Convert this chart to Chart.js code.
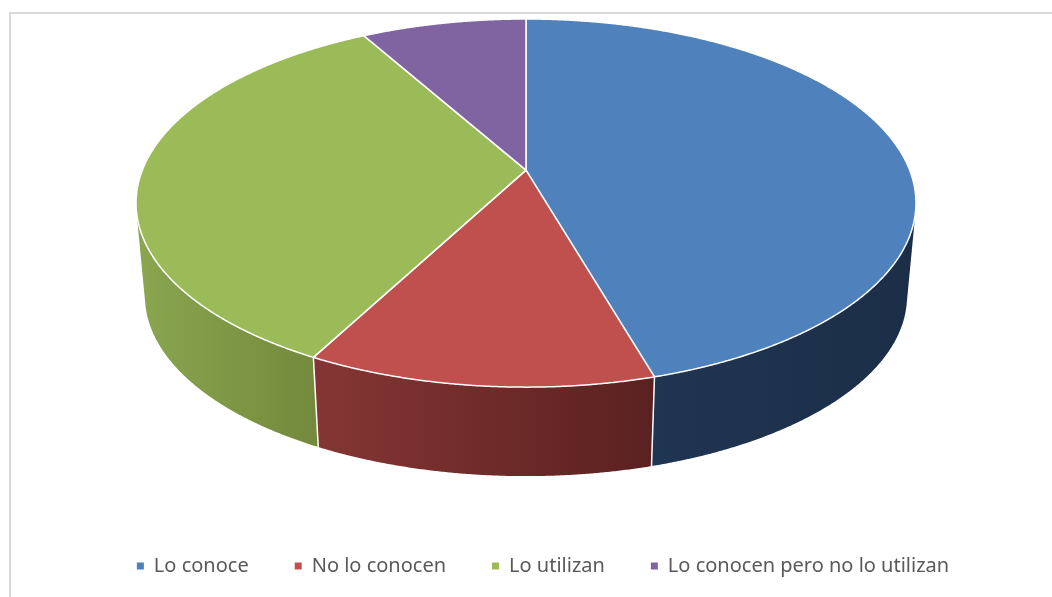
<!DOCTYPE html>
<html><head><meta charset="utf-8">
<script src="https://cdn.jsdelivr.net/npm/chart.js@4.4.1/dist/chart.umd.min.js"></script>
<style>
html,body{margin:0;padding:0;background:#fff;overflow:hidden;width:1052px;height:597px;}
#frame{position:absolute;left:9px;top:12px;width:1200px;height:800px;border-left:2px solid #d9d9d9;border-top:2px solid #d9d9d9;}
#wrap{position:absolute;left:0;top:0;width:1052px;height:597px;}
</style></head><body>
<div id="frame"></div>
<div id="wrap"><canvas id="c" width="1052" height="597"></canvas></div>
<script>
const categories = ['Lo conoce', 'No lo conocen', 'Lo utilizan', 'Lo conocen pero no lo utilizan'];
const values = [56, 15, 42, 10];
const topColors = ['#4F81BD', '#C0504D', '#9BBB59', '#8064A2'];
const sideColors = [['#203552', '#1c2e47'], ['#853634', '#5a2120'], ['#8aa650', '#73893c'], ['#4d3c62', '#3f3150']];

const view3d = { fill: 0.931, tilt: 0.472, perspective: 0.179, depth: 0.241, shrink: 0.977, legendShift: 17 };

const pie3d = {
  id: 'pie3d',
  afterLayout(chart, args, o) {
    if (chart.legend) { chart.legend.left += o.legendShift; chart.legend.right += o.legendShift; }
  },
  beforeDatasetsDraw(chart, args, o) {
    const ctx = chart.ctx, ca = chart.chartArea;
    const arcs = chart.getDatasetMeta(0).data;
    const e = o.perspective, s = o.shrink;
    const H = (ca.bottom - ca.top) * o.fill;
    const ry = H / (1 - e + o.depth / o.tilt + s * (1 + e));
    const rx = ry / o.tilt;
    const cx = arcs[0].x;
    const cyTop = ca.top + ry;
    const apexY = cyTop - ry * e;
    const kx = rx * Math.sqrt(1 - e * e), ky = ry * (1 - e * e);
    const D = o.depth * rx;
    const T = a => { const u = Math.cos(a), v = Math.sin(a), w = 1 - e * v; return [cx + kx * u / w, apexY + ky * v / w]; };
    const B = a => { const u = Math.cos(a), v = Math.sin(a), w = 1 - e * v; return [cx + s * kx * u / w, apexY + D + s * ky * v / w]; };
    const cross = a => {
      const h = 1e-4, t0 = T(a - h), t1 = T(a + h), t = T(a), b = B(a);
      const dx = t1[0] - t0[0], dy = t1[1] - t0[1];
      return dx * (b[1] - t[1]) - dy * (b[0] - t[0]);
    };
    const findZero = (lo, hi) => {
      let best = lo, bv = Infinity;
      for (let a = lo; a <= hi; a += 0.0005) { const c = Math.abs(cross(a)); if (c < bv) { bv = c; best = a; } }
      return best;
    };
    const aR = findZero(-0.6, 0.8), aL = findZero(Math.PI - 0.8, Math.PI + 0.6);
    const step = 0.004;
    const pts = (f, a0, a1) => {
      const n = Math.max(2, Math.ceil(Math.abs(a1 - a0) / step)), r = [];
      for (let i = 0; i <= n; i++) r.push(f(a0 + (a1 - a0) * i / n));
      return r;
    };
    ctx.save();
    ctx.lineJoin = 'round';
    arcs.forEach((arc, i) => {
      const a0 = Math.max(arc.startAngle, aR), a1 = Math.min(arc.endAngle, aL);
      if (a1 <= a0) return;
      const top = pts(T, a0, a1), bot = pts(B, a1, a0);
      const all = top.concat(bot);
      let minX = Infinity, maxX = -Infinity;
      all.forEach(p => { minX = Math.min(minX, p[0]); maxX = Math.max(maxX, p[0]); });
      const g = ctx.createLinearGradient(minX, 0, maxX, 0);
      g.addColorStop(0, sideColors[i][0]);
      g.addColorStop(1, sideColors[i][1]);
      ctx.beginPath();
      all.forEach((p, k) => k ? ctx.lineTo(p[0], p[1]) : ctx.moveTo(p[0], p[1]));
      ctx.closePath();
      ctx.fillStyle = g;
      ctx.fill();
    });
    ctx.strokeStyle = '#ffffff';
    ctx.lineWidth = 1.5;
    arcs.forEach(arc => {
      const a = arc.endAngle;
      if (a > aR && a < aL) {
        const t = T(a), b = B(a);
        ctx.beginPath(); ctx.moveTo(t[0], t[1]); ctx.lineTo(b[0], b[1]); ctx.stroke();
      }
    });
    arcs.forEach((arc, i) => {
      const p = pts(T, arc.startAngle, arc.endAngle);
      ctx.beginPath();
      ctx.moveTo(cx, apexY);
      p.forEach(q => ctx.lineTo(q[0], q[1]));
      ctx.closePath();
      ctx.fillStyle = topColors[i];
      ctx.fill();
      ctx.stroke();
    });
    ctx.restore();
    return false;
  }
};

new Chart(document.getElementById('c'), {
  type: 'pie',
  data: { labels: categories, datasets: [{ data: values, backgroundColor: topColors, borderWidth: 0 }] },
  options: {
    responsive: false, animation: false, devicePixelRatio: 1,
    layout: { padding: { top: 19, bottom: 11, left: 0, right: 0 } },
    plugins: {
      legend: {
        position: 'bottom',
        labels: { boxWidth: 7, boxHeight: 7, padding: 46, color: '#595959', font: { family: "'Noto Sans', sans-serif", size: 20 } }
      },
      tooltip: { enabled: false },
      pie3d: view3d
    }
  },
  plugins: [pie3d]
});
</script>
</body></html>
